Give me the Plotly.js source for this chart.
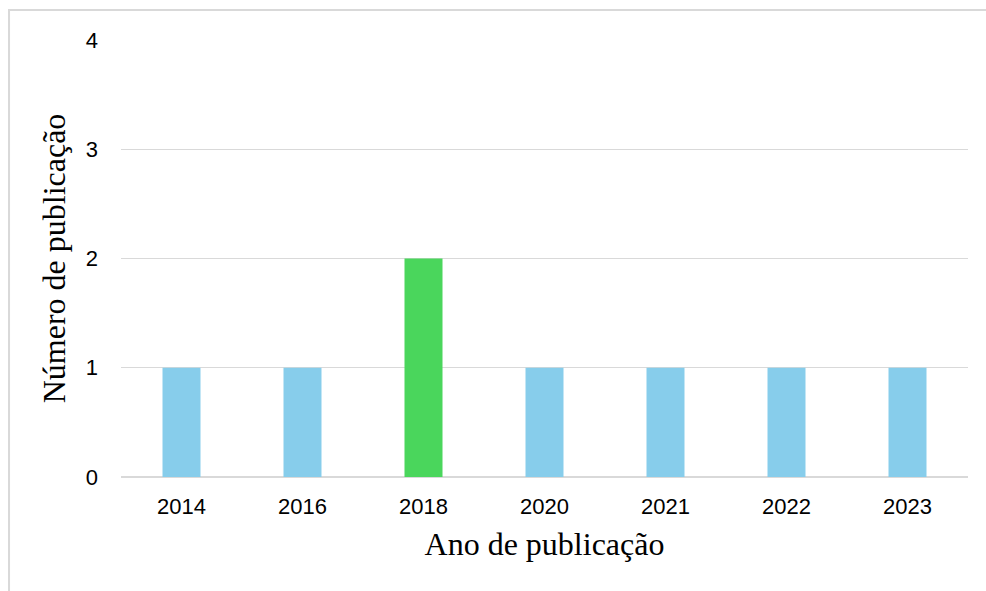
<!DOCTYPE html>
<html>
<head>
<meta charset="utf-8">
<script src="https://cdn.plot.ly/plotly-3.0.1.min.js"></script>
<style>html,body{margin:0;padding:0;background:#fff;}#chart{width:986px;height:591px;}</style>
</head>
<body>
<div id="chart"></div>
<script>
const years = ["2014", "2016", "2018", "2020", "2021", "2022", "2023"];
const publicacoes = [1, 1, 2, 1, 1, 1, 1];
const barColors = ["#87CDEB", "#87CDEB", "#4AD65C", "#87CDEB", "#87CDEB", "#87CDEB", "#87CDEB"];

const trace = {
  type: "bar",
  x: years,
  y: publicacoes,
  marker: { color: barColors },
  hoverinfo: "x+y"
};

const layout = {
  width: 986,
  height: 591,
  margin: { l: 121, r: 18, t: 40, b: 114 },
  paper_bgcolor: "#ffffff",
  plot_bgcolor: "#ffffff",
  bargap: 0.686,
  showlegend: false,
  font: { family: "Liberation Sans, Arial, sans-serif", color: "#000000", size: 22 },
  xaxis: {
    type: "category",
    tickfont: { size: 22, family: "Liberation Sans, Arial, sans-serif", color: "#000" },
    showgrid: false,
    showline: false,
    ticks: "",
    ticklabelstandoff: 14,
    automargin: false,
    title: {
      text: "Ano de publicação",
      font: { family: "Liberation Serif, Times New Roman, serif", size: 32, color: "#000" },
      standoff: 14
    }
  },
  yaxis: {
    range: [0, 4],
    dtick: 1,
    tick0: 0,
    showgrid: true,
    gridcolor: "#d9d9d9",
    gridwidth: 1.3,
    zeroline: true,
    zerolinecolor: "#d9d9d9",
    zerolinewidth: 2,
    showline: false,
    ticks: "",
    ticklabelstandoff: 22,
    automargin: false,
    tickfont: { size: 22, family: "Liberation Sans, Arial, sans-serif", color: "#000" },
    title: {
      text: "Número de publicação",
      font: { family: "Liberation Serif, Times New Roman, serif", size: 32, color: "#000" },
      standoff: 10
    }
  },
  shapes: [{
    type: "rect",
    xref: "paper", yref: "paper",
    x0: -0.1322, x1: 1.2,
    y0: -0.5, y1: 1.0686,
    line: { color: "#d9d9d9", width: 2 },
    fillcolor: "rgba(0,0,0,0)",
    layer: "below"
  }]
};

Plotly.newPlot("chart", [trace], layout, { displayModeBar: false, staticPlot: true });
</script>
</body>
</html>
